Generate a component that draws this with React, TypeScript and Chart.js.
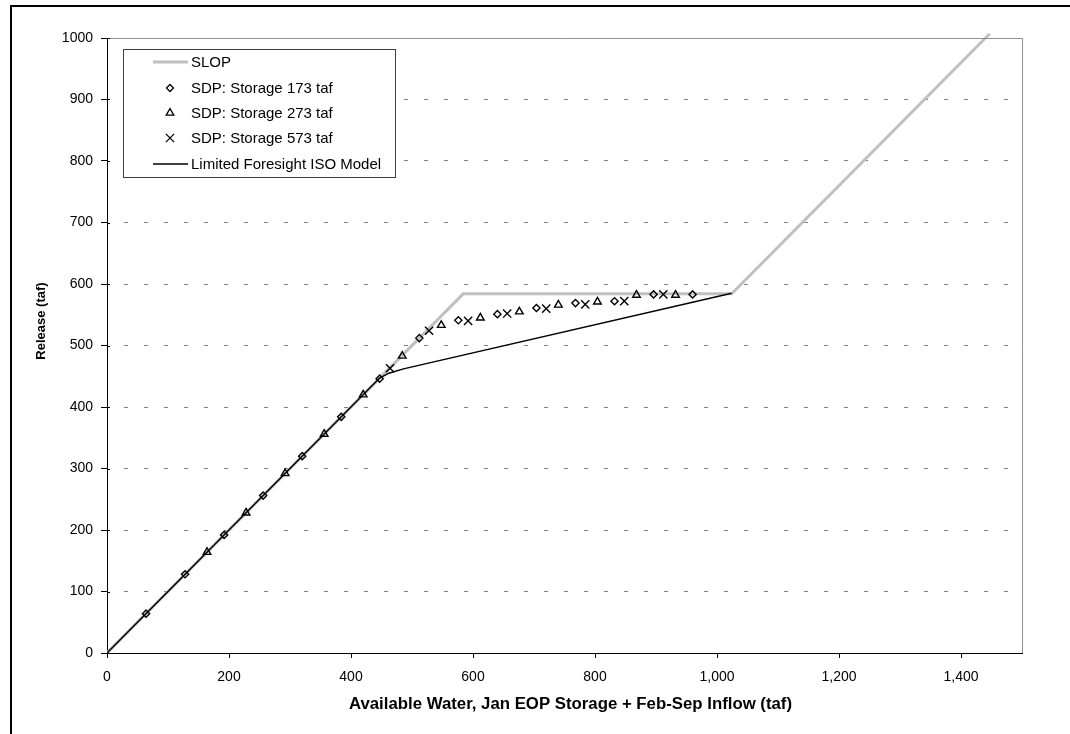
import React, { useEffect, useRef } from "react";
import { Chart, registerables } from "chart.js";

Chart.register(...registerables);

// ---- data ----
const slopX = [0, 584, 1024, 1447];
const slopY = [0, 584, 584, 1007];
const isoX = [0, 447, 462, 486, 1024];
const isoY = [0, 447, 455, 462, 585];
const s173X = [64, 128, 192, 256, 320, 384, 447, 512, 576, 640, 704, 768, 832, 896, 960];
const s173Y = [64, 128, 192, 256, 320, 384, 446, 512, 541, 551, 561, 569, 572, 583, 583];
const s273X = [164, 228, 292, 356, 420, 484, 548, 612, 676, 740, 804, 868, 932];
const s273Y = [164, 228, 292, 356, 420, 483, 533, 545, 555, 566, 571, 582, 582];
const s573X = [464, 528, 592, 656, 720, 784, 848, 912];
const s573Y = [463, 524, 540, 552, 560, 567, 572, 583];
const xTickValues = [0, 200, 400, 600, 800, 1000, 1200, 1400];
const yTickValues = [0, 100, 200, 300, 400, 500, 600, 700, 800, 900, 1000];
const legendLabels = [
  "SLOP",
  "SDP: Storage 173 taf",
  "SDP: Storage 273 taf",
  "SDP: Storage 573 taf",
  "Limited Foresight ISO Model",
];
const xTitle = "Available Water, Jan EOP Storage + Feb-Sep Inflow (taf)";
const yTitle = "Release (taf)";

const FONT = "'Liberation Sans', Arial, sans-serif";

const zip = (xs: number[], ys: number[]) => xs.map((x, i) => ({ x, y: ys[i] }));

function drawMarker(ctx: CanvasRenderingContext2D, kind: string, x: number, y: number) {
  ctx.save();
  ctx.strokeStyle = "#000";
  ctx.lineWidth = 1.3;
  ctx.beginPath();
  if (kind === "diamond") {
    const r = 3.5;
    ctx.moveTo(x - r, y);
    ctx.lineTo(x, y - r);
    ctx.lineTo(x + r, y);
    ctx.lineTo(x, y + r);
    ctx.closePath();
  } else if (kind === "triangle") {
    const r = 4.4;
    for (let k = 0; k < 3; k++) {
      const a = (k * 2 * Math.PI) / 3;
      const px = x + Math.sin(a) * r;
      const py = y - Math.cos(a) * r;
      if (k === 0) ctx.moveTo(px, py);
      else ctx.lineTo(px, py);
    }
    ctx.closePath();
  } else {
    const d = 4.1;
    ctx.moveTo(x - d, y - d);
    ctx.lineTo(x + d, y + d);
    ctx.moveTo(x + d, y - d);
    ctx.lineTo(x - d, y + d);
  }
  ctx.stroke();
  ctx.restore();
}

const decorPlugin = {
  id: "decor",
  beforeDraw(chart: any) {
    const ctx = chart.ctx as CanvasRenderingContext2D;
    ctx.save();
    ctx.fillStyle = "#fff";
    ctx.fillRect(0, 0, chart.width, chart.height);
    // outer frame (top and left visible)
    ctx.fillStyle = "#000";
    ctx.fillRect(10, 5, chart.width - 10, 2);
    ctx.fillRect(10, 5, 2, chart.height - 5);
    ctx.restore();
  },
  afterDraw(chart: any) {
    const ctx = chart.ctx as CanvasRenderingContext2D;
    const { left, right, top, bottom } = chart.chartArea;
    const ys = chart.scales.y;
    ctx.save();
    // plot border top/right
    ctx.strokeStyle = "#909090";
    ctx.lineWidth = 1;
    ctx.beginPath();
    ctx.moveTo(left, top + 0.5);
    ctx.lineTo(right + 0.5, top + 0.5);
    ctx.lineTo(right + 0.5, bottom);
    ctx.stroke();
    // inner half of cross ticks on y axis
    ctx.strokeStyle = "#000";
    ctx.beginPath();
    yTickValues.forEach((v) => {
      const py = Math.round(ys.getPixelForValue(v)) + 0.5;
      ctx.moveTo(left, py);
      ctx.lineTo(left + 3, py);
    });
    ctx.stroke();

    // axis titles
    ctx.fillStyle = "#000";
    ctx.font = `bold 16.8px ${FONT}`;
    ctx.textAlign = "center";
    ctx.textBaseline = "middle";
    ctx.fillText(xTitle, (left + right) / 2 + 6, 704);
    ctx.save();
    ctx.translate(41, 321);
    ctx.rotate(-Math.PI / 2);
    ctx.font = `bold 13px ${FONT}`;
    ctx.fillText(yTitle, 0, 0);
    ctx.restore();

    // legend
    const lx = 123, ly = 49, lw = 272, lh = 128;
    ctx.fillStyle = "#fff";
    ctx.fillRect(lx, ly, lw, lh);
    ctx.strokeStyle = "#404040";
    ctx.lineWidth = 1;
    ctx.strokeRect(lx + 0.5, ly + 0.5, lw, lh);
    const rows = [62, 88, 113, 138, 164];
    ctx.font = `15px ${FONT}`;
    ctx.textAlign = "left";
    ctx.textBaseline = "middle";
    rows.forEach((ry, i) => {
      if (i === 0) {
        ctx.strokeStyle = "#c0c0c0";
        ctx.lineWidth = 3;
        ctx.beginPath();
        ctx.moveTo(153, ry);
        ctx.lineTo(188, ry);
        ctx.stroke();
      } else if (i === 4) {
        ctx.strokeStyle = "#000";
        ctx.lineWidth = 1.5;
        ctx.beginPath();
        ctx.moveTo(153, ry);
        ctx.lineTo(188, ry);
        ctx.stroke();
      } else {
        drawMarker(ctx, ["", "diamond", "triangle", "cross"][i], 170, ry);
      }
      ctx.fillStyle = "#000";
      ctx.fillText(legendLabels[i], 191, ry + 1);
    });
    ctx.restore();
  },
};

export default function App() {
  const ref = useRef<HTMLCanvasElement | null>(null);
  useEffect(() => {
    if (!ref.current) return;
    const chart = new Chart(ref.current, {
      type: "scatter",
      data: {
        datasets: [
          {
            label: legendLabels[1],
            data: zip(s173X, s173Y),
            pointStyle: "rectRot",
            pointRadius: 3.6,
            pointBorderWidth: 1.4,
            pointBorderColor: "#000",
            pointBackgroundColor: "rgba(0,0,0,0)",
            showLine: false,
            order: 0,
          } as any,
          {
            label: legendLabels[2],
            data: zip(s273X, s273Y),
            pointStyle: "triangle",
            pointRadius: 4.4,
            pointBorderWidth: 1.4,
            pointBorderColor: "#000",
            pointBackgroundColor: "rgba(0,0,0,0)",
            showLine: false,
            order: 0,
          },
          {
            label: legendLabels[3],
            data: zip(s573X, s573Y),
            pointStyle: "crossRot",
            pointRadius: 5.8,
            pointBorderWidth: 1.4,
            pointBorderColor: "#000",
            pointBackgroundColor: "rgba(0,0,0,0)",
            showLine: false,
            order: 0,
          },
          {
            label: legendLabels[4],
            data: zip(isoX, isoY),
            showLine: true,
            borderColor: "#000",
            borderWidth: 1.5,
            pointRadius: 0,
            tension: 0,
            order: 2,
          },
          {
            label: legendLabels[0],
            data: zip(slopX, slopY),
            showLine: true,
            borderColor: "#c0c0c0",
            borderWidth: 3,
            pointRadius: 0,
            tension: 0,
            clip: { left: 0, top: false, right: 0, bottom: 0 },
            order: 3,
          } as any,
        ],
      },
      options: {
        animation: false,
        responsive: false,
        devicePixelRatio: 1,
        layout: { padding: { top: 38, right: 48, left: 0, bottom: 0 } },
        plugins: {
          legend: { display: false },
          tooltip: { enabled: false },
          title: { display: false },
        },
        scales: {
          x: {
            type: "linear",
            min: 0,
            max: 1500,
            afterBuildTicks: (s: any) => {
              s.ticks = xTickValues.map((v) => ({ value: v }));
            },
            afterFit: (s: any) => {
              s.height = 81;
            },
            grid: {
              drawOnChartArea: false,
              drawTicks: true,
              tickLength: 5,
              tickColor: "#000",
              tickWidth: 1,
            },
            border: { display: true, color: "#000", width: 1 },
            ticks: {
              color: "#000",
              font: { family: FONT, size: 14 },
              padding: 11,
              maxRotation: 0,
              callback: (v: any) => Number(v).toLocaleString("en-US"),
            },
          },
          y: {
            type: "linear",
            min: 0,
            max: 1000,
            afterBuildTicks: (s: any) => {
              s.ticks = yTickValues.map((v) => ({ value: v }));
            },
            afterFit: (s: any) => {
              s.width = 107;
            },
            grid: {
              drawOnChartArea: true,
              drawTicks: true,
              tickLength: 6,
              tickColor: "#000",
              tickWidth: 1,
              lineWidth: 1,
              color: (c: any) =>
                c.tick && (c.tick.value === 0 || c.tick.value === 1000) ? "rgba(0,0,0,0)" : "#808080",
            },
            border: { display: true, color: "#000", width: 1, dash: [4, 16], dashOffset: 4 },
            ticks: {
              color: "#000",
              font: { family: FONT, size: 14 },
              padding: 8,
              callback: (v: any) => String(v),
            },
          },
        },
      },
      plugins: [decorPlugin],
    });
    return () => chart.destroy();
  }, []);
  return (
    <canvas
      ref={ref}
      width={1070}
      height={734}
      style={{ position: "fixed", left: 0, top: 0, display: "block" }}
    />
  );
}
